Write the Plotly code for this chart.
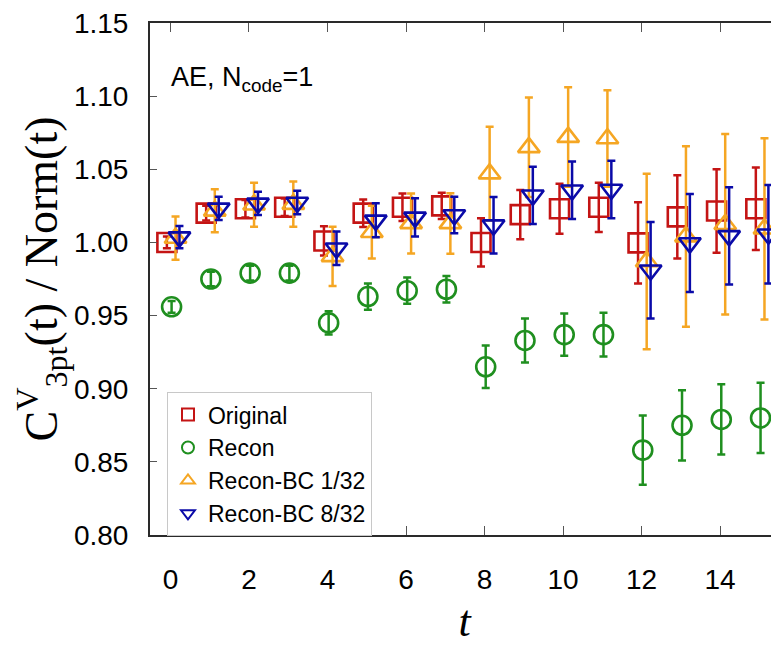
import plotly.graph_objects as go

# ---------------- data ----------------
t = list(range(16))

orig_y = [1.000, 1.020, 1.023, 1.024, 1.001, 1.020, 1.024, 1.025,
          1.000, 1.019, 1.023, 1.024, 0.9997, 1.0175, 1.0215, 1.023]
orig_err = [0.004, 0.005, 0.006, 0.006, 0.010, 0.0094, 0.0094, 0.009,
            0.0165, 0.0168, 0.0171, 0.0168, 0.0277, 0.0285, 0.0285, 0.0282]

recon_y = [0.956, 0.975, 0.979, 0.979, 0.945, 0.963, 0.967, 0.968,
           0.915, 0.933, 0.937, 0.937, 0.858, 0.875, 0.879, 0.880]
recon_err = [0.004, 0.005, 0.005, 0.005, 0.008, 0.009, 0.009, 0.009,
             0.0145, 0.015, 0.0145, 0.015, 0.0237, 0.024, 0.024, 0.024]

bc1_y = [1.003, 1.0216, 1.0258, 1.0262, 0.9905, 1.007, 1.013, 1.013,
         1.047, 1.065, 1.072, 1.071, 0.987, 1.004, 1.0124, 1.0093]
bc1_err = [0.0148, 0.0147, 0.015, 0.0154, 0.0203, 0.018, 0.0205, 0.0207,
           0.032, 0.034, 0.034, 0.033, 0.060, 0.0617, 0.0617, 0.062]

bc8_y = [1.0036, 1.0233, 1.0267, 1.0273, 0.996, 1.0151, 1.0171, 1.0188,
         1.0118, 1.0322, 1.0357, 1.0362, 0.981, 0.9996, 1.0045, 1.0056]
bc8_err = [0.0076, 0.008, 0.008, 0.0081, 0.0114, 0.0116, 0.0131, 0.0125,
           0.0193, 0.0196, 0.0197, 0.0197, 0.033, 0.0335, 0.0332, 0.0336]

names = ["Original", "Recon", "Recon-BC 1/32", "Recon-BC 8/32"]
x_tick_vals = [0, 2, 4, 6, 8, 10, 12, 14]
y_tick_vals = [0.80, 0.85, 0.90, 0.95, 1.00, 1.05, 1.10, 1.15]

# ---------------- style ----------------
colors = ["#c41414", "#1f8f1f", "#f5a623", "#0a0aa8"]
symbols = ["square-open", "circle-open", "triangle-up-open", "triangle-down-open"]
offsets = [-0.09, 0.03, 0.13, 0.23]
SANS = "Liberation Sans, Arial, sans-serif"
SERIF = "Liberation Serif, Times New Roman, serif"

series = [(orig_y, orig_err), (recon_y, recon_err), (bc1_y, bc1_err), (bc8_y, bc8_err)]

fig = go.Figure()
for (ys, es), name, col, sym, off in zip(series, names, colors, symbols, offsets):
    fig.add_trace(go.Scatter(
        x=[v + off for v in t], y=ys, name=name, mode="markers",
        marker=dict(symbol=sym, size=19, color=col, line=dict(width=2.6, color=col)),
        error_y=dict(type="data", array=es, visible=True, color=col,
                     thickness=2.5, width=4),
    ))

axis_common = dict(showline=True, linecolor="#2a2a2a", linewidth=2, mirror="allticks",
                   ticks="inside", tickcolor="#555555", showgrid=False, zeroline=False,
                   automargin=False, ticklabeloverflow="allow",
                   tickfont=dict(family=SANS, size=28, color="black"))

fig.update_layout(
    width=779, height=648,
    margin=dict(l=142, r=8, t=15, b=121),
    plot_bgcolor="white", paper_bgcolor="white",
    xaxis=dict(range=[-0.52, 15.5], tickvals=x_tick_vals, ticklen=9,
               ticklabelstandoff=18,
               title=dict(text="<i>t</i>", font=dict(family=SERIF, size=44, color="black"),
                          standoff=12),
               **axis_common),
    yaxis=dict(range=[0.80, 1.15], tickvals=y_tick_vals, tickformat=".2f", ticklen=7,
               ticklabelstandoff=14,
               title=dict(text="C<sup>V</sup><sub>3pt</sub>(t) / Norm(t)",
                          font=dict(family=SERIF, size=46, color="black"), standoff=0),
               **axis_common),
    legend=dict(x=0.027, y=0.279, xanchor="left", yanchor="top",
                bgcolor="white", bordercolor="#c8c8c8", borderwidth=1,
                font=dict(family=SANS, size=23, color="black"),
                tracegroupgap=0, itemsizing="constant"),
    annotations=[dict(text="AE, N<sub>code</sub>=1", xref="paper", yref="paper",
                      x=0.03, y=0.891, xanchor="left", yanchor="middle", showarrow=False,
                      font=dict(family=SANS, size=27, color="black"))],
)

fig.write_html("out.html")
